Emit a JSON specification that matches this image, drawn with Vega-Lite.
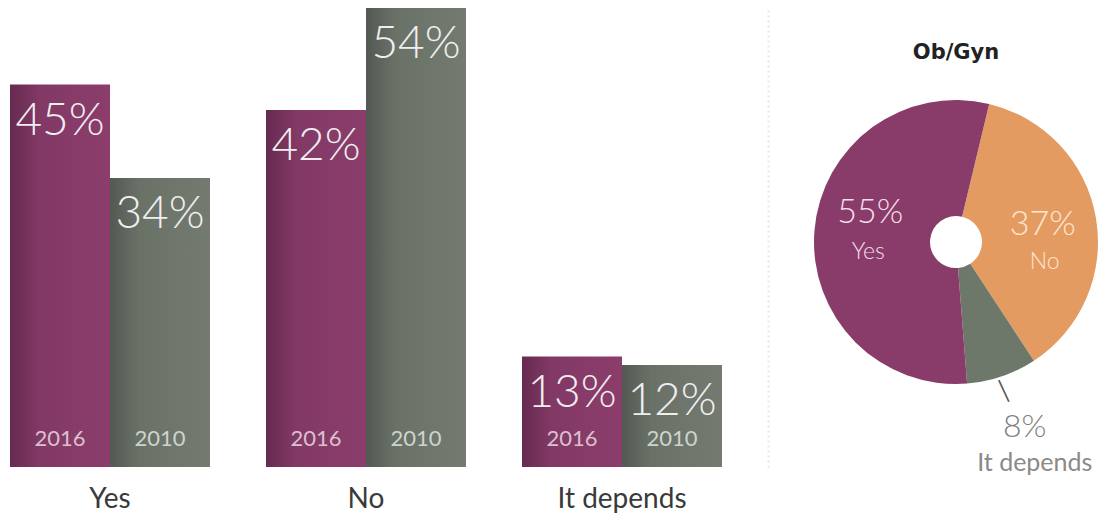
{
  "$schema": "https://vega.github.io/schema/vega-lite/v6.json",
  "autosize": {"type": "pad"},
  "padding": {"left": 10, "top": 8, "right": 0, "bottom": 0},
  "background": "#ffffff",
  "bounds": "flush",
  "spacing": 88,
  "resolve": {"scale": {"color": "independent"}},
  "config": {"view": {"stroke": null}, "font": "Lato"},
  "hconcat": [
    {
      "width": 712,
      "height": 459,
      "data": {"values": [
        {"answer": "Yes", "year": "2016", "share": 0.45},
        {"answer": "Yes", "year": "2010", "share": 0.34},
        {"answer": "No", "year": "2016", "share": 0.42},
        {"answer": "No", "year": "2010", "share": 0.54},
        {"answer": "It depends", "year": "2016", "share": 0.13},
        {"answer": "It depends", "year": "2010", "share": 0.12}
      ]},
      "encoding": {
        "x": {"field": "answer", "type": "nominal", "sort": ["Yes", "No", "It depends"],
          "scale": {"paddingInner": 0.21875, "paddingOuter": 0},
          "axis": {"title": null, "domain": false, "ticks": false, "tickSize": 0, "labelAngle": 0,
            "labelFontSize": 28, "labelColor": "#3a3a3a", "labelBaseline": "alphabetic", "labelPadding": 40, "labelFont": "Lato"}},
        "xOffset": {"field": "year", "type": "nominal", "sort": ["2016", "2010"], "scale": {"paddingInner": 0, "paddingOuter": 0}},
        "y": {"field": "share", "type": "quantitative", "scale": {"domain": [0, 0.54], "nice": false, "zero": true},
          "axis": {"orient": "right", "offset": 46, "domain": true, "domainColor": "#e6e6e6", "domainDash": [2, 3], "domainWidth": 2,
            "labels": false, "ticks": false, "grid": false, "title": null}}
      },
      "layer": [
        {
          "transform": [{"filter": "datum.year === '2016'"}],
          "mark": {"type": "bar", "color": {"gradient": "linear", "x1": 0, "x2": 1, "y1": 0, "y2": 0,
            "stops": [{"offset": 0, "color": "#672a50"}, {"offset": 0.3, "color": "#823965"}, {"offset": 1, "color": "#8b3d6b"}]}}
        },
        {
          "transform": [{"filter": "datum.year === '2010'"}],
          "mark": {"type": "bar", "color": {"gradient": "linear", "x1": 0, "x2": 1, "y1": 0, "y2": 0,
            "stops": [{"offset": 0, "color": "#525952"}, {"offset": 0.3, "color": "#6a7268"}, {"offset": 1, "color": "#737b71"}]}}
        },
        {
          "mark": {"type": "text", "baseline": "alphabetic", "align": "center", "dy": 50, "fontSize": 46, "fontWeight": 300, "font": "Lato", "color": "#f1eef0"},
          "encoding": {"text": {"field": "share", "type": "quantitative", "format": ".0%"}}
        },
        {
          "mark": {"type": "text", "baseline": "alphabetic", "align": "center", "dy": -21, "fontSize": 22, "font": "Lato"},
          "encoding": {
            "y": {"datum": 0, "type": "quantitative"},
            "text": {"field": "year", "type": "nominal"},
            "color": {"field": "year", "type": "nominal", "scale": {"domain": ["2016", "2010"], "range": ["#dcc0d1", "#cfd3cd"]}, "legend": null}
          }
        }
      ]
    },
    {
      "width": 292,
      "height": 468,
      "title": {"text": "Ob/Gyn", "fontSize": 21, "fontWeight": "bold", "font": "DejaVu Sans", "color": "#222222", "baseline": "alphabetic", "offset": -72, "anchor": "middle"},
      "data": {"values": [
        {"answer": "No", "share": 0.37, "order": 1},
        {"answer": "It depends", "share": 0.08, "order": 2},
        {"answer": "Yes", "share": 0.55, "order": 3}
      ]},
      "encoding": {
        "theta": {"field": "share", "type": "quantitative", "stack": true, "scale": {"range": [0.236, 6.519]}},
        "order": {"field": "order", "type": "quantitative"}
      },
      "layer": [
        {
          "mark": {"type": "arc", "outerRadius": 142, "innerRadius": 26},
          "encoding": {"color": {"field": "answer", "type": "nominal",
            "scale": {"domain": ["Yes", "No", "It depends"], "range": ["#893c69", "#e49b61", "#6d786b"]}, "legend": null}}
        },
        {
          "mark": {"type": "text", "radius": 88, "dx": 2, "dy": -22, "baseline": "middle", "fontSize": 34, "fontWeight": 300, "font": "Lato", "color": "#f4dfeb"},
          "encoding": {"text": {"condition": {"test": "datum.answer === 'Yes'", "field": "share", "type": "quantitative", "format": ".0%"}, "value": ""}}
        },
        {
          "mark": {"type": "text", "radius": 88, "dx": 0, "dy": 17, "baseline": "middle", "fontSize": 23, "fontWeight": 300, "font": "Lato", "color": "#f4dfeb"},
          "encoding": {"text": {"condition": {"test": "datum.answer === 'Yes'", "field": "answer", "type": "nominal"}, "value": ""}}
        },
        {
          "mark": {"type": "text", "radius": 88, "dx": 0, "dy": -2, "baseline": "middle", "fontSize": 34, "fontWeight": 300, "font": "Lato", "color": "#fde6d1"},
          "encoding": {"text": {"condition": {"test": "datum.answer === 'No'", "field": "share", "type": "quantitative", "format": ".0%"}, "value": ""}}
        },
        {
          "mark": {"type": "text", "radius": 88, "dx": 2, "dy": 35, "baseline": "middle", "fontSize": 23, "fontWeight": 300, "font": "Lato", "color": "#fde6d1"},
          "encoding": {"text": {"condition": {"test": "datum.answer === 'No'", "field": "answer", "type": "nominal"}, "value": ""}}
        },
        {
          "mark": {"type": "text", "radius": 200, "dx": 4, "dy": -4, "baseline": "middle", "fontSize": 32, "fontWeight": 300, "font": "Lato", "color": "#808080"},
          "encoding": {"text": {"condition": {"test": "datum.answer === 'It depends'", "field": "share", "type": "quantitative", "format": ".0%"}, "value": ""}}
        },
        {
          "mark": {"type": "text", "radius": 200, "dx": 14, "dy": 32, "baseline": "middle", "fontSize": 25, "font": "Lato", "color": "#8a8a8a"},
          "encoding": {"text": {"condition": {"test": "datum.answer === 'It depends'", "field": "answer", "type": "nominal"}, "value": ""}}
        },
        {
          "mark": {"type": "text", "radius": 155, "dx": -3, "dy": 2, "baseline": "middle", "angle": 335, "fontSize": 20, "font": "DejaVu Sans", "color": "#555555"},
          "encoding": {"text": {"condition": {"test": "datum.answer === 'It depends'", "value": "│"}, "value": ""}}
        }
      ]
    }
  ]
}
